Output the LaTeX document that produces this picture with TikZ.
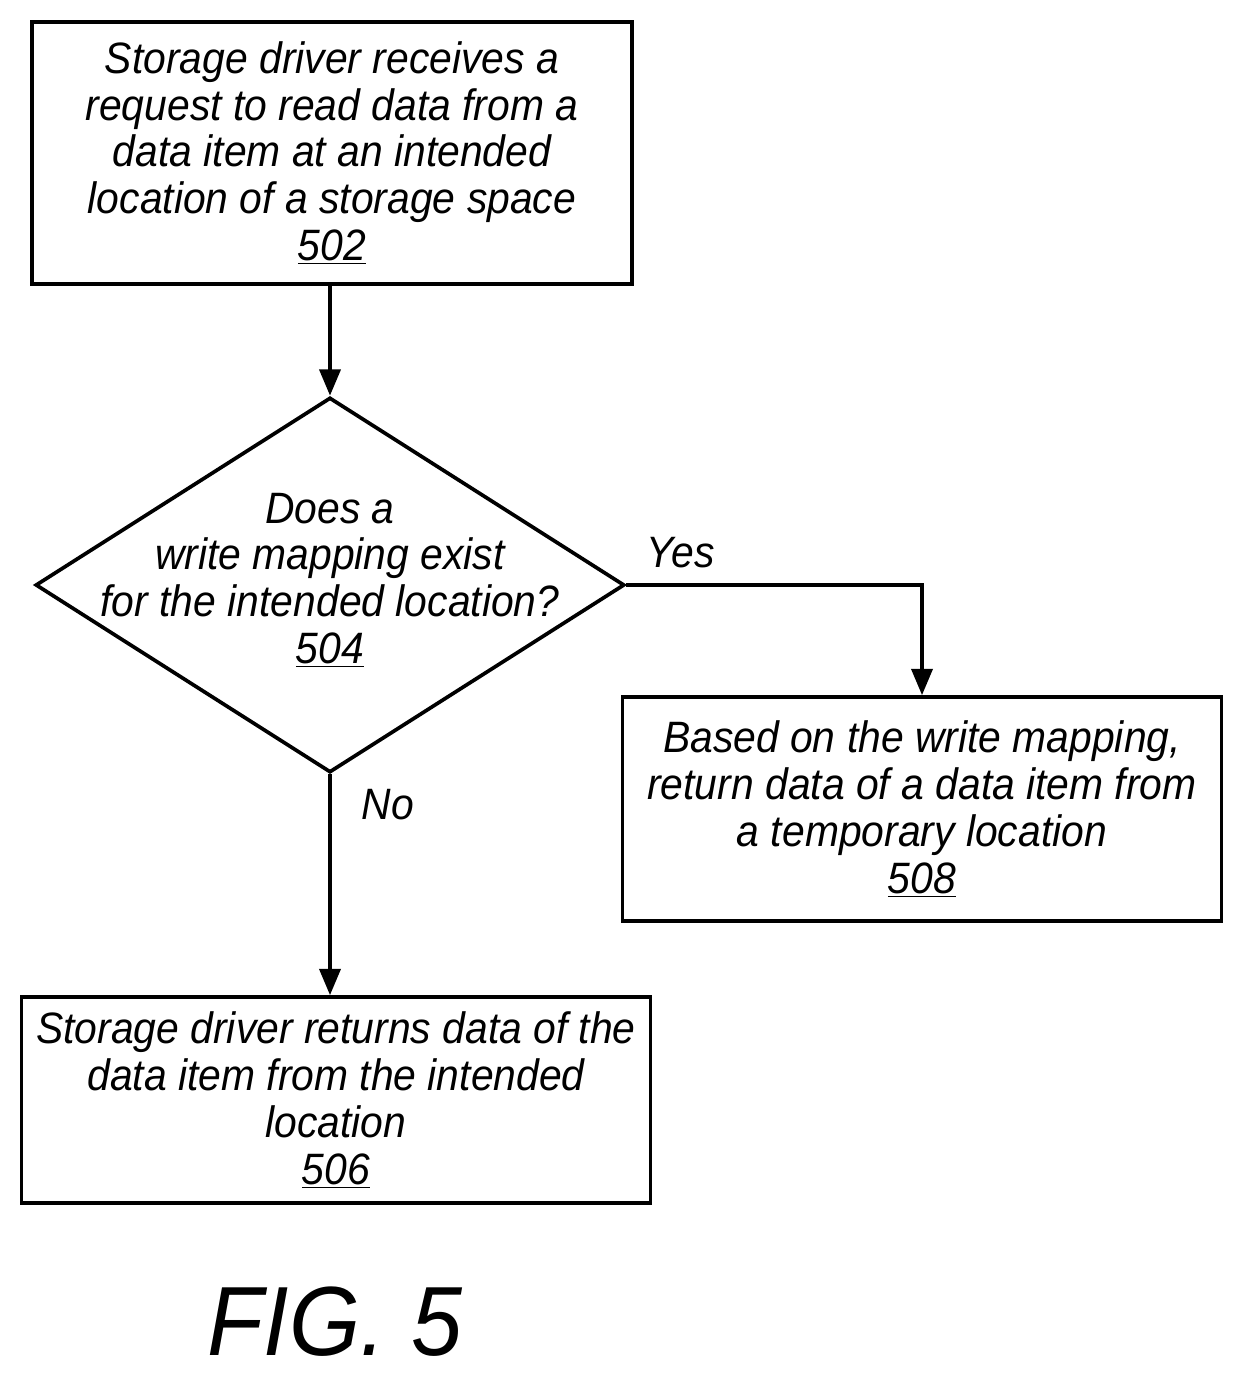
\documentclass[tikz,border=0pt]{standalone}
\usepackage{fontspec}
\setmainfont{Liberation Sans}[FakeStretch=0.93]
\usetikzlibrary{arrows.meta,shapes.geometric}
\begin{document}
\begin{tikzpicture}[x=0.02cm,y=-0.02cm,
  every node/.style={font=\itshape\fontsize{25}{26.6}\selectfont,align=center},
  box/.style={draw,line width=2.1pt,inner sep=0pt},
  arr/.style={line width=2.1pt,-{Triangle[length=15pt,width=12pt]}}]
\useasboundingbox (0,0) rectangle (1245,1381);
\node[box,minimum width=600*0.02cm,minimum height=262*0.02cm] (b502) at (332,153)
 {Storage driver receives a\\request to read data from a\\data item at an intended\\location of a storage space\\\underline{502}};
\node[draw,diamond,line width=2.1pt,minimum width=589*0.02cm,minimum height=375*0.02cm,inner sep=0pt,aspect=1.57] (d504) at (330,585) {};
\node at (330,580) {Does a\\write mapping exist\\for the intended location?\\\underline{504}};
\node[box,minimum width=599*0.02cm,minimum height=224*0.02cm] (b508) at (922,809)
 {Based on the write mapping,\\return data of a data item from\\a temporary location\\\underline{508}};
\node[box,minimum width=629*0.02cm,minimum height=206*0.02cm] (b506) at (336,1100)
 {Storage driver returns data of the\\data item from the intended\\location\\\underline{506}};
\coordinate (c) at (922,585);
\draw[arr] (b502.south -| d504.north) -- (d504.north);
\draw[arr] (d504.east) -- (c) -- (b508.north);
\draw[arr] (d504.south) -- (d504.south |- b506.north);
\node at (681,553) {Yes};
\node at (388,805) {No};
\node[font=\itshape\fontsize{56}{62}\selectfont] (fig) at (335,1322) {FIG. 5};
\end{tikzpicture}
\end{document}
